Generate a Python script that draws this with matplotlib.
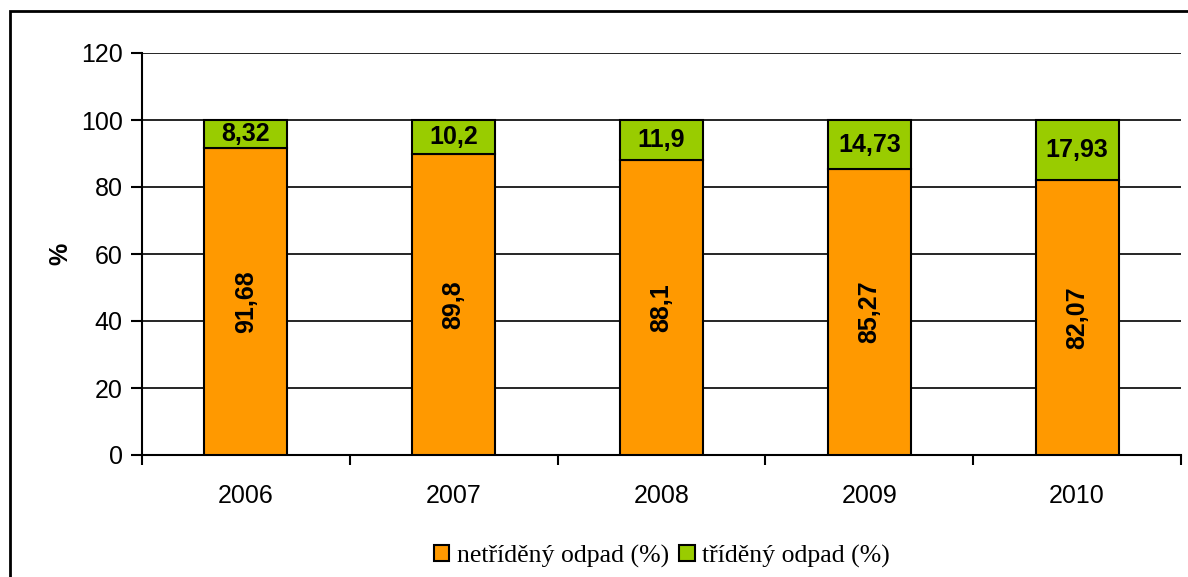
import matplotlib.pyplot as plt
import numpy as np
from matplotlib.patches import Rectangle

YEARS = ["2006", "2007", "2008", "2009", "2010"]
UNSORTED = [91.68, 89.8, 88.1, 85.27, 82.07]
SORTED = [8.32, 10.2, 11.9, 14.73, 17.93]
LABEL_UNSORTED = "netříděný odpad (%)"
LABEL_SORTED = "tříděný odpad (%)"


def fmt(v):
    return f"{v:g}".replace(".", ",")


def main() -> None:
    plt.rcParams.update({
        "font.family": "Liberation Sans",
    })

    fig = plt.figure(figsize=(11.88, 5.77), dpi=100)
    ax = fig.add_axes([142 / 1188, 1 - 455 / 577, (1181 - 142) / 1188, (455 - 53) / 577])

    x = np.arange(len(YEARS))
    width = 0.4
    orange = "#FF9900"
    green = "#99CC00"

    bars1 = ax.bar(x, UNSORTED, width, color=orange, edgecolor="black", linewidth=1.5,
                   label=LABEL_UNSORTED, zorder=3)
    bars2 = ax.bar(x, SORTED, width, bottom=UNSORTED, color=green, edgecolor="black",
                   linewidth=1.5, label=LABEL_SORTED, zorder=3)

    for bar, v in zip(bars1, UNSORTED):
        ax.text(bar.get_x() + bar.get_width() / 2, v / 2, fmt(v), rotation=90,
                ha="center", va="center", fontsize=18, fontweight="bold", zorder=4)
    for bar, b, v in zip(bars2, UNSORTED, SORTED):
        ax.text(bar.get_x() + bar.get_width() / 2, b + v / 2, fmt(v),
                ha="center", va="center", fontsize=18, fontweight="bold", zorder=4)

    ax.set_xlim(-0.5, len(YEARS) - 0.5)
    ax.set_ylim(0, 120)
    ax.set_yticks(np.arange(0, 121, 20))
    ax.yaxis.grid(True, color="black", linewidth=1.2, zorder=0)
    ax.set_axisbelow(True)

    ax.set_xticks(x)
    ax.set_xticklabels(YEARS)
    ax.set_xticks(np.arange(-0.5, len(YEARS), 1.0), minor=True)
    ax.tick_params(axis="x", which="major", length=0, pad=21, labelsize=18)
    ax.tick_params(axis="x", which="minor", length=7, width=1.5, direction="out")
    ax.tick_params(axis="y", length=8, width=1.5, direction="out", labelsize=18, pad=6)

    for side in ["top", "right"]:
        ax.spines[side].set_visible(False)
    for side in ["left", "bottom"]:
        ax.spines[side].set_linewidth(1.5)

    ax.set_ylabel("%", fontsize=18, fontweight="bold", labelpad=6)

    fig.legend(loc="center", bbox_to_anchor=(662 / 1188, 1 - 556 / 577), ncols=2,
               frameon=False, prop={"family": "Liberation Serif", "size": 18.5},
               handlelength=0.6, handleheight=0.6, handletextpad=0.3, columnspacing=0.4)

    fig.add_artist(Rectangle((10 / 1188, -0.1), 1.2, 1 - 11 / 577 + 0.1,
                             transform=fig.transFigure, fill=False,
                             edgecolor="black", linewidth=2))

    fig.savefig("out.png", dpi=100)


if __name__ == "__main__":
    main()
